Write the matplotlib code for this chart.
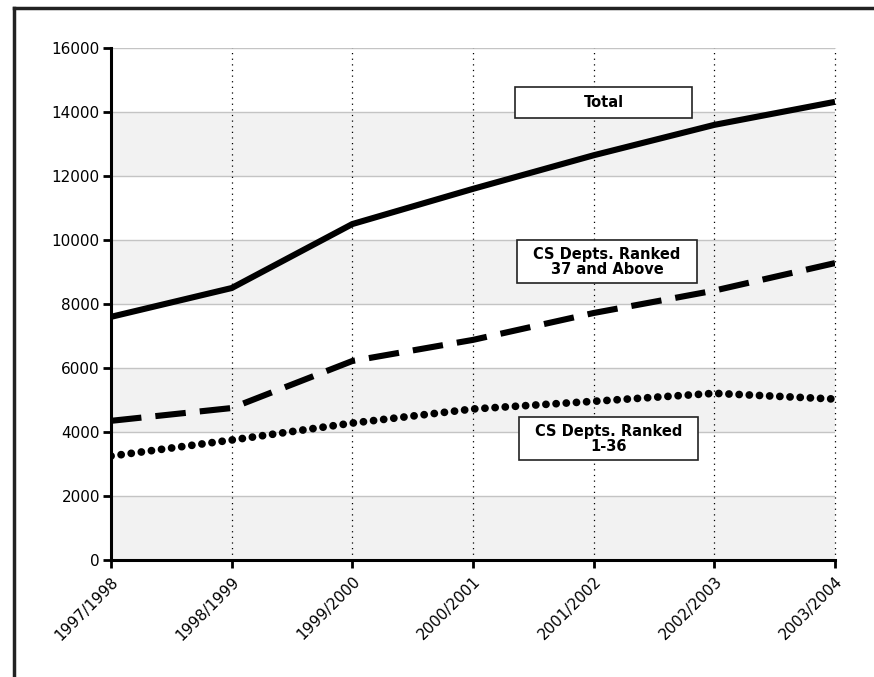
import matplotlib
matplotlib.use("Agg")
import matplotlib.pyplot as plt
from matplotlib.patches import Rectangle
from matplotlib.lines import Line2D

plt.rcParams['font.family'] = ['DejaVu Sans']

years = ['1997/1998', '1998/1999', '1999/2000', '2000/2001',
         '2001/2002', '2002/2003', '2003/2004']
total = [7600, 8500, 10500, 11600, 12650, 13600, 14320]
ranked_37_up = [4350, 4750, 6220, 6880, 7720, 8420, 9280]
ranked_1_36 = [3250, 3750, 4280, 4720, 4960, 5210, 5030]
yticks = [0, 2000, 4000, 6000, 8000, 10000, 12000, 14000, 16000]

fig = plt.figure(figsize=(8.74, 6.77), dpi=100)
ax = fig.add_axes([0.127, 0.1728, 0.8284, 0.7562])
x = list(range(len(years)))

# alternating bands
for i, lo in enumerate(yticks[:-1]):
    if i % 2 == 0:
        ax.axhspan(lo, lo + 2000, color='#f2f2f2', zorder=0, lw=0)
for v in yticks[1:]:
    ax.axhline(v, color='#c4c4c4', lw=1, zorder=1)
for xi in x[1:]:
    ax.axvline(xi, color='black', lw=0.9, linestyle=(0, (1, 3.5)), zorder=1, clip_on=False)

ax.plot(x, total, color='black', lw=4.4, solid_capstyle='butt', zorder=3)
ax.plot(x, ranked_37_up, color='black', lw=4.4, dashes=(5, 2.3),
        dash_capstyle='butt', zorder=3)
ax.plot(x, ranked_1_36, color='black', lw=5.6, dashes=(0.01, 1.3),
        dash_capstyle='round', zorder=3)

ax.set_xlim(0, len(years) - 1)
ax.set_ylim(0, 16000)
ax.set_yticks(yticks)
ax.set_yticklabels([str(v) for v in yticks], fontsize=11)
ax.set_xticks(x)
ax.set_xticklabels(years, rotation=45, ha='right', rotation_mode='anchor', fontsize=11)
ax.tick_params(axis='both', width=2, length=6, direction='out', pad=2)
ax.tick_params(axis='x', pad=4)

for s in ['top', 'right']:
    ax.spines[s].set_visible(False)
for s in ['left', 'bottom']:
    ax.spines[s].set_linewidth(2.2)

boxes = [
    ('Total', 0.558, 0.863, 0.2445, 0.061),
    ('CS Depts. Ranked\n37 and Above', 0.561, 0.541, 0.248, 0.084),
    ('CS Depts. Ranked\n1-36', 0.5635, 0.195, 0.2475, 0.084),
]
for label, bx, by, bw, bh in boxes:
    ax.add_patch(Rectangle((bx, by), bw, bh, transform=ax.transAxes,
                           facecolor='white', edgecolor='#222222', lw=1.2, zorder=5))
    ax.text(bx + bw / 2, by + bh / 2, label, transform=ax.transAxes,
            ha='center', va='center', fontsize=10.5, fontweight='bold',
            linespacing=1.0, zorder=6)

# outer frame (top and left)
fig.add_artist(Line2D([14 / 874, 1], [1 - 8 / 677, 1 - 8 / 677],
                      transform=fig.transFigure, color='#222222', lw=2.5))
fig.add_artist(Line2D([14 / 874, 14 / 874], [0, 1 - 8 / 677],
                      transform=fig.transFigure, color='#222222', lw=2.5))

fig.savefig('out.png', dpi=100)
